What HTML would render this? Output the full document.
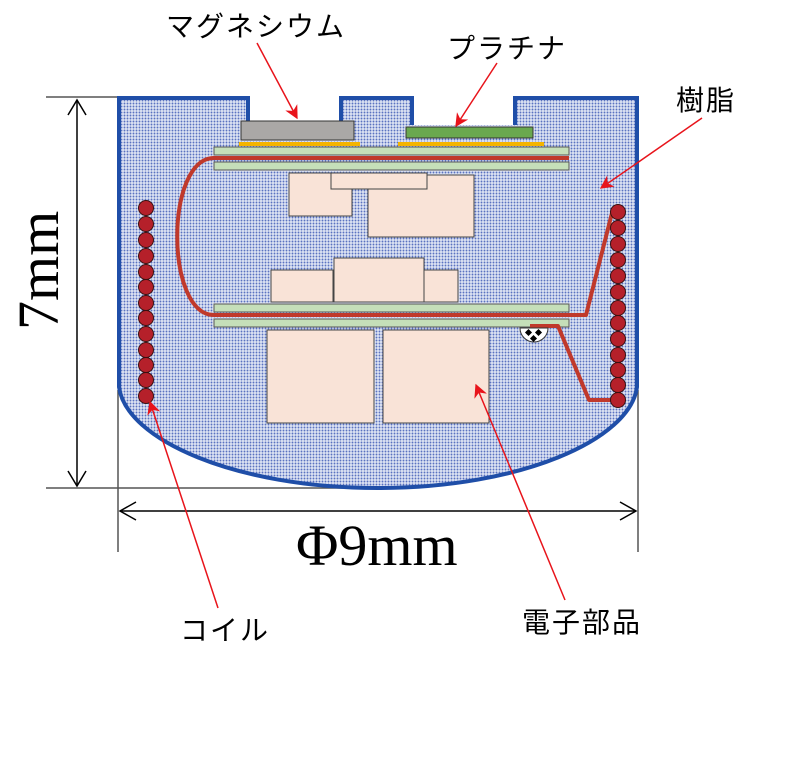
<!DOCTYPE html>
<html><head><meta charset="utf-8"><style>
html,body{margin:0;padding:0;background:#fff;width:800px;height:777px;overflow:hidden}
svg{display:block}
.jp{font-family:"Liberation Sans","Noto Sans CJK JP",sans-serif;font-size:28px;letter-spacing:2px;fill:#000}
.dim{font-family:"Liberation Serif",serif;fill:#000}
</style></head><body>
<svg width="800" height="777" viewBox="0 0 800 777" xmlns="http://www.w3.org/2000/svg">
<defs>
<pattern id="dots" width="3" height="3" patternUnits="userSpaceOnUse">
<rect width="3" height="3" fill="#dfe5f4"/>
<circle cx="1.5" cy="1.5" r="0.95" fill="#5a72c0"/>
</pattern>
<marker id="ar" viewBox="0 0 10 10" refX="9" refY="5" markerWidth="9" markerHeight="9" orient="auto">
<path d="M0,0 L10,5 L0,10 L3,5 Z" fill="#e8141b"/>
</marker>
</defs>

<g stroke="#555" stroke-width="1.5" fill="none">
<line x1="46" y1="97" x2="120" y2="97"/>
<line x1="46" y1="488" x2="380" y2="488"/>
<line x1="118" y1="390" x2="118" y2="552"/>
<line x1="638" y1="390" x2="638" y2="552"/>
</g>
<g stroke="#000" stroke-width="1.5" fill="none">
<line x1="77" y1="100" x2="77" y2="486"/>
<path d="M68,115 L77,100 L86,115"/>
<path d="M68,471 L77,486 L86,471"/>
<line x1="120" y1="511" x2="636" y2="511"/>
<path d="M136,502 L120,511 L136,520"/>
<path d="M620,502 L636,511 L620,520"/>
</g>
<text class="dim" font-size="58" transform="translate(58,330) rotate(-90)">7mm</text>
<text class="dim" font-size="58" x="296" y="565">Φ9mm</text>

<path d="M119,98 L248,98 L248,122 L341,122 L341,98 L412,98 L412,125 L515,125 L515,98 L637,98 L637,387 C630,440 520,488 378,488 C236,488 126,440 119,387 Z" fill="url(#dots)"/>
<path d="M248,122 L248,98 L119,98 L119,387 C126,440 236,488 378,488 C520,488 630,440 637,387 L637,98 L515,98 L515,125 M412,125 L412,98 L341,98 L341,122" fill="none" stroke="#1f4ea8" stroke-width="4"/>

<rect x="241" y="121" width="113" height="19" fill="#aaa8a6" stroke="#333" stroke-width="1"/>
<rect x="406" y="127" width="127" height="11" fill="#6aa84f" stroke="#333" stroke-width="1"/>
<rect x="239" y="142" width="121" height="4" fill="#f4b400"/>
<rect x="398" y="142" width="146" height="4" fill="#f4b400"/>

<g fill="#c5dfb9" stroke="#555" stroke-width="1">
<rect x="214" y="147" width="355" height="8"/>
<rect x="214" y="162" width="355" height="8"/>
<rect x="214" y="304" width="355" height="8"/>
<rect x="214" y="319" width="355" height="8"/>
</g>

<g fill="#f9e3d7" stroke="#444" stroke-width="1">
<rect x="289" y="173" width="63" height="43"/>
<rect x="368" y="175" width="106" height="62"/>
<rect x="331" y="173" width="96" height="16"/>
<rect x="271" y="270" width="62" height="32"/>
<rect x="424" y="270" width="34" height="32"/>
<rect x="334" y="258" width="90" height="44"/>
<rect x="267" y="330" width="107" height="93"/>
<rect x="383" y="330" width="106" height="93"/>
</g>

<g fill="none" stroke="#c0392b" stroke-width="4" stroke-linejoin="round">
<path d="M569,158 L214,158 C165,158 165,315 214,315 L586,315 L612,213"/>
<path d="M530,326 L558,326 L589,400 L612,400"/>
</g>
<path d="M520,328 A14,14 0 0 0 548,328 Z" fill="#fff" stroke="#333" stroke-width="1"/>
<g fill="#000">
<rect x="526" y="330" width="5" height="5" transform="rotate(45 528.5 332.5)"/>
<rect x="536" y="330" width="5" height="5" transform="rotate(45 538.5 332.5)"/>
<rect x="531" y="336" width="5" height="5" transform="rotate(45 533.5 338.5)"/>
</g>

<g fill="#b5202a" stroke="#3a1010" stroke-width="1">
<circle cx="146" cy="208" r="7.5"/><circle cx="146" cy="224" r="7.5"/><circle cx="146" cy="240" r="7.5"/>
<circle cx="146" cy="256" r="7.5"/><circle cx="146" cy="272" r="7.5"/><circle cx="146" cy="287" r="7.5"/>
<circle cx="146" cy="303" r="7.5"/><circle cx="146" cy="318" r="7.5"/><circle cx="146" cy="334" r="7.5"/>
<circle cx="146" cy="350" r="7.5"/><circle cx="146" cy="365" r="7.5"/><circle cx="146" cy="380" r="7.5"/>
<circle cx="146" cy="396" r="7.5"/>
<circle cx="618" cy="212" r="7.5"/><circle cx="618" cy="228" r="7.5"/><circle cx="618" cy="244" r="7.5"/>
<circle cx="618" cy="260" r="7.5"/><circle cx="618" cy="276" r="7.5"/><circle cx="618" cy="292" r="7.5"/>
<circle cx="618" cy="308" r="7.5"/><circle cx="618" cy="323" r="7.5"/><circle cx="618" cy="339" r="7.5"/>
<circle cx="618" cy="355" r="7.5"/><circle cx="618" cy="370" r="7.5"/><circle cx="618" cy="385" r="7.5"/>
<circle cx="618" cy="400" r="7.5"/>
</g>

<g stroke="#e8141b" stroke-width="1.5" fill="none" marker-end="url(#ar)">
<line x1="257" y1="43" x2="297" y2="118"/>
<line x1="497" y1="63" x2="456" y2="126"/>
<line x1="702" y1="118" x2="601" y2="188"/>
<line x1="218" y1="608" x2="150" y2="402"/>
<line x1="565" y1="600" x2="476" y2="385"/>
</g>

<text class="jp" x="166" y="36">マグネシウム</text>
<text class="jp" x="447" y="58">プラチナ</text>
<text class="jp" x="676" y="110">樹脂</text>
<text class="jp" x="180" y="640">コイル</text>
<text class="jp" x="522" y="632">電子部品</text>
</svg>
</body></html>
